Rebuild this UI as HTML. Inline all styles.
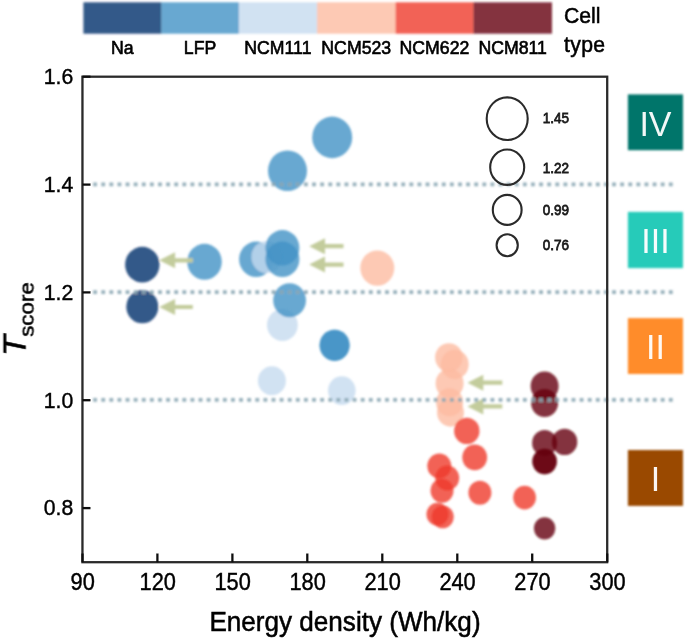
<!DOCTYPE html>
<html lang="en"><head><meta charset="utf-8"><title>T score vs energy density</title>
<style>html,body{margin:0;padding:0;background:#fff}body{width:685px;height:639px;overflow:hidden}svg{display:block}text{font-family:"Liberation Sans",Arial,sans-serif}</style>
</head><body>
<svg width="685" height="639" viewBox="0 0 685 639">
<defs>
<filter id="b" x="-5%" y="-5%" width="110%" height="110%"><feGaussianBlur stdDeviation="0.95"/></filter>
<filter id="b2" x="-5%" y="-5%" width="110%" height="110%"><feGaussianBlur stdDeviation="0.55"/></filter>
<filter id="bt" x="-5%" y="-5%" width="110%" height="110%"><feGaussianBlur stdDeviation="0.75"/></filter>
</defs>
<rect width="685" height="639" fill="#fff"/>
<g filter="url(#b)">
<rect x="83.40" y="2.3" width="78.20" height="31.40" fill="#08306b" fill-opacity="0.8"/>
<rect x="161.30" y="2.3" width="77.80" height="31.40" fill="#4292c6" fill-opacity="0.8"/>
<rect x="238.80" y="2.3" width="78.50" height="31.40" fill="#c6dbef" fill-opacity="0.8"/>
<rect x="317.00" y="2.3" width="78.80" height="31.40" fill="#fcbba1" fill-opacity="0.8"/>
<rect x="395.50" y="2.3" width="78.20" height="31.40" fill="#ef3b2c" fill-opacity="0.8"/>
<rect x="473.40" y="2.3" width="78.60" height="31.40" fill="#67000d" fill-opacity="0.8"/>
<ellipse cx="142.3" cy="264.7" rx="17.2" ry="17.89" fill="#08306b" fill-opacity="0.8"/>
<ellipse cx="142.3" cy="306.7" rx="16" ry="16.64" fill="#08306b" fill-opacity="0.8"/>
<ellipse cx="332.2" cy="137.4" rx="20" ry="20.80" fill="#4292c6" fill-opacity="0.8"/>
<ellipse cx="287.5" cy="170.7" rx="19.5" ry="20.28" fill="#4292c6" fill-opacity="0.8"/>
<ellipse cx="204.5" cy="261.8" rx="17.3" ry="17.99" fill="#4292c6" fill-opacity="0.8"/>
<ellipse cx="256.1" cy="259.3" rx="17" ry="17.68" fill="#4292c6" fill-opacity="0.8"/>
<ellipse cx="267" cy="257" rx="15.5" ry="16.12" fill="#c6dbef" fill-opacity="0.8"/>
<ellipse cx="282.4" cy="247.8" rx="17" ry="17.68" fill="#4292c6" fill-opacity="0.8"/>
<ellipse cx="282.4" cy="259.3" rx="17" ry="17.68" fill="#4292c6" fill-opacity="0.8"/>
<ellipse cx="282.4" cy="325" rx="15.4" ry="16.02" fill="#c6dbef" fill-opacity="0.8"/>
<ellipse cx="289.6" cy="300.3" rx="16.4" ry="17.06" fill="#4292c6" fill-opacity="0.8"/>
<ellipse cx="334.6" cy="345.3" rx="15" ry="15.60" fill="#4292c6" fill-opacity="0.8"/>
<ellipse cx="334.6" cy="345.3" rx="15" ry="15.60" fill="#4292c6" fill-opacity="0.8"/>
<ellipse cx="271.9" cy="380.8" rx="14" ry="14.56" fill="#c6dbef" fill-opacity="0.8"/>
<ellipse cx="341.8" cy="390.6" rx="13.8" ry="14.35" fill="#c6dbef" fill-opacity="0.8"/>
<ellipse cx="377.3" cy="268.1" rx="17" ry="17.68" fill="#fcbba1" fill-opacity="0.8"/>
<ellipse cx="448.9" cy="357.5" rx="13.8" ry="14.35" fill="#fcbba1" fill-opacity="0.8"/>
<ellipse cx="454.7" cy="364.4" rx="14" ry="14.56" fill="#fcbba1" fill-opacity="0.8"/>
<ellipse cx="449.6" cy="383.4" rx="14" ry="14.56" fill="#fcbba1" fill-opacity="0.8"/>
<ellipse cx="449.6" cy="402.3" rx="13.5" ry="14.04" fill="#fcbba1" fill-opacity="0.8"/>
<ellipse cx="450.5" cy="412.6" rx="13.5" ry="14.04" fill="#fcbba1" fill-opacity="0.8"/>
<ellipse cx="466.8" cy="430.9" rx="12.7" ry="13.21" fill="#ef3b2c" fill-opacity="0.8"/>
<ellipse cx="474.7" cy="457.4" rx="12.4" ry="12.90" fill="#ef3b2c" fill-opacity="0.8"/>
<ellipse cx="439.3" cy="466" rx="12" ry="12.48" fill="#ef3b2c" fill-opacity="0.8"/>
<ellipse cx="447.2" cy="478" rx="12" ry="12.48" fill="#ef3b2c" fill-opacity="0.8"/>
<ellipse cx="442" cy="490.8" rx="11.5" ry="11.96" fill="#ef3b2c" fill-opacity="0.8"/>
<ellipse cx="479.9" cy="492.8" rx="11.5" ry="11.96" fill="#ef3b2c" fill-opacity="0.8"/>
<ellipse cx="524.6" cy="497.6" rx="11.4" ry="11.86" fill="#ef3b2c" fill-opacity="0.8"/>
<ellipse cx="437.5" cy="514.2" rx="11" ry="11.44" fill="#ef3b2c" fill-opacity="0.8"/>
<ellipse cx="442.7" cy="516.9" rx="11" ry="11.44" fill="#ef3b2c" fill-opacity="0.8"/>
<ellipse cx="544.6" cy="386.1" rx="14" ry="14.56" fill="#67000d" fill-opacity="0.8"/>
<ellipse cx="544.6" cy="403" rx="13.5" ry="14.04" fill="#67000d" fill-opacity="0.8"/>
<ellipse cx="544.6" cy="442.9" rx="12.5" ry="13.00" fill="#67000d" fill-opacity="0.8"/>
<ellipse cx="564.6" cy="441.9" rx="12.7" ry="13.21" fill="#67000d" fill-opacity="0.8"/>
<ellipse cx="544.6" cy="461.5" rx="12.2" ry="12.69" fill="#67000d" fill-opacity="0.8"/>
<ellipse cx="544.6" cy="461.5" rx="12.2" ry="12.69" fill="#67000d" fill-opacity="0.8"/>
<ellipse cx="544.6" cy="528.3" rx="10.7" ry="11.13" fill="#67000d" fill-opacity="0.8"/>
<path d="M159.3,260.3 L175.1,252.3 L175.1,258.2 L192.8,258.2 L192.8,262.40000000000003 L175.1,262.40000000000003 L175.1,268.3 Z" fill="#c3cc9c"/>
<path d="M159.3,307 L175.1,299.0 L175.1,304.9 L192.8,304.9 L192.8,309.1 L175.1,309.1 L175.1,315.0 Z" fill="#c3cc9c"/>
<path d="M309.2,246.2 L325.0,238.2 L325.0,244.1 L343.5,244.1 L343.5,248.29999999999998 L325.0,248.29999999999998 L325.0,254.2 Z" fill="#c3cc9c"/>
<path d="M309.2,264.6 L325.0,256.6 L325.0,262.5 L343.5,262.5 L343.5,266.70000000000005 L325.0,266.70000000000005 L325.0,272.6 Z" fill="#c3cc9c"/>
<path d="M467.5,382.7 L483.3,374.7 L483.3,380.59999999999997 L502.3,380.59999999999997 L502.3,384.8 L483.3,384.8 L483.3,390.7 Z" fill="#c3cc9c"/>
<path d="M467.5,406.4 L483.3,398.4 L483.3,404.29999999999995 L502.3,404.29999999999995 L502.3,408.5 L483.3,408.5 L483.3,414.4 Z" fill="#c3cc9c"/>
<line x1="93.2" y1="184.3" x2="673" y2="184.3" stroke="#8aa6b2" stroke-width="3.7" stroke-dasharray="3.8 4.308" stroke-opacity="0.9"/>
<line x1="93.2" y1="292.1" x2="673" y2="292.1" stroke="#8aa6b2" stroke-width="3.7" stroke-dasharray="3.8 4.308" stroke-opacity="0.9"/>
<line x1="93.2" y1="399.9" x2="673" y2="399.9" stroke="#8aa6b2" stroke-width="3.7" stroke-dasharray="3.8 4.308" stroke-opacity="0.9"/>
<rect x="627.9" y="94.4" width="55.1" height="55.8" fill="#00746b"/>
<rect x="627.9" y="211.9" width="55.1" height="56.2" fill="#25cbb9"/>
<rect x="627.9" y="318.1" width="55.1" height="55.9" fill="#ff8c2a"/>
<rect x="627.9" y="450" width="55.1" height="55.9" fill="#9a4800"/>
</g>
<g filter="url(#b2)">
<ellipse cx="507.2" cy="118.7" rx="20.5" ry="21.3" fill="none" stroke="#2a2a2a" stroke-width="2.1"/>
<ellipse cx="507.2" cy="167.2" rx="17.0" ry="17.7" fill="none" stroke="#2a2a2a" stroke-width="2.1"/>
<ellipse cx="507.2" cy="209.9" rx="14.4" ry="15.0" fill="none" stroke="#2a2a2a" stroke-width="2.1"/>
<ellipse cx="507.2" cy="245.2" rx="10.6" ry="11.0" fill="none" stroke="#2a2a2a" stroke-width="2.1"/>
<rect x="82.45" y="76.7" width="524.75" height="485.5" fill="none" stroke="#2a2a2a" stroke-width="2.3"/>
<line x1="82.45" y1="76.7" x2="90.5" y2="76.7" stroke="#111" stroke-width="2.3"/>
<line x1="82.45" y1="184.6" x2="90.5" y2="184.6" stroke="#111" stroke-width="2.3"/>
<line x1="82.45" y1="292.4" x2="90.5" y2="292.4" stroke="#111" stroke-width="2.3"/>
<line x1="82.45" y1="400.2" x2="90.5" y2="400.2" stroke="#111" stroke-width="2.3"/>
<line x1="82.45" y1="508.1" x2="90.5" y2="508.1" stroke="#111" stroke-width="2.3"/>
<line x1="82.5" y1="562.2" x2="82.5" y2="553.5" stroke="#111" stroke-width="2.3"/>
<line x1="157.4" y1="562.2" x2="157.4" y2="553.5" stroke="#111" stroke-width="2.3"/>
<line x1="232.4" y1="562.2" x2="232.4" y2="553.5" stroke="#111" stroke-width="2.3"/>
<line x1="307.3" y1="562.2" x2="307.3" y2="553.5" stroke="#111" stroke-width="2.3"/>
<line x1="382.3" y1="562.2" x2="382.3" y2="553.5" stroke="#111" stroke-width="2.3"/>
<line x1="457.3" y1="562.2" x2="457.3" y2="553.5" stroke="#111" stroke-width="2.3"/>
<line x1="532.2" y1="562.2" x2="532.2" y2="553.5" stroke="#111" stroke-width="2.3"/>
<line x1="607.2" y1="562.2" x2="607.2" y2="553.5" stroke="#111" stroke-width="2.3"/>
</g>
<g filter="url(#bt)">
<text x="122.35" y="54.00" font-size="17.7" text-anchor="middle" fill="#000" stroke="#000" stroke-width="0.6" transform="translate(0,54.00) scale(1,1.08) translate(0,-54.00)" >Na</text>
<text x="200.05" y="54.00" font-size="17.7" text-anchor="middle" fill="#000" stroke="#000" stroke-width="0.6" transform="translate(0,54.00) scale(1,1.08) translate(0,-54.00)" >LFP</text>
<text x="277.90" y="54.00" font-size="17.7" text-anchor="middle" fill="#000" stroke="#000" stroke-width="0.6" transform="translate(0,54.00) scale(1,1.08) translate(0,-54.00)" >NCM111</text>
<text x="356.25" y="54.00" font-size="17.7" text-anchor="middle" fill="#000" stroke="#000" stroke-width="0.6" transform="translate(0,54.00) scale(1,1.08) translate(0,-54.00)" >NCM523</text>
<text x="434.45" y="54.00" font-size="17.7" text-anchor="middle" fill="#000" stroke="#000" stroke-width="0.6" transform="translate(0,54.00) scale(1,1.08) translate(0,-54.00)" >NCM622</text>
<text x="512.70" y="54.00" font-size="17.7" text-anchor="middle" fill="#000" stroke="#000" stroke-width="0.6" transform="translate(0,54.00) scale(1,1.08) translate(0,-54.00)" >NCM811</text>
<text x="564.00" y="23.40" font-size="21.2" text-anchor="start" fill="#000" stroke="#000" stroke-width="0.5" transform="translate(0,23.40) scale(1,1.06) translate(0,-23.40)" >Cell</text>
<text x="564.00" y="52.30" font-size="21.2" text-anchor="start" fill="#000" stroke="#000" stroke-width="0.5" transform="translate(0,52.30) scale(1,1.06) translate(0,-52.30)" letter-spacing="0.35">type</text>
<text x="542.70" y="123.20" font-size="13.5" text-anchor="start" fill="#1a1a1a" stroke="#1a1a1a" stroke-width="0.7" transform="translate(0,123.20) scale(1,1.08) translate(0,-123.20)" >1.45</text>
<text x="542.70" y="172.70" font-size="13.5" text-anchor="start" fill="#1a1a1a" stroke="#1a1a1a" stroke-width="0.7" transform="translate(0,172.70) scale(1,1.08) translate(0,-172.70)" >1.22</text>
<text x="542.70" y="214.90" font-size="13.5" text-anchor="start" fill="#1a1a1a" stroke="#1a1a1a" stroke-width="0.7" transform="translate(0,214.90) scale(1,1.08) translate(0,-214.90)" >0.99</text>
<text x="542.70" y="249.90" font-size="13.5" text-anchor="start" fill="#1a1a1a" stroke="#1a1a1a" stroke-width="0.7" transform="translate(0,249.90) scale(1,1.08) translate(0,-249.90)" >0.76</text>
<text x="655.5" y="135.5" font-size="34" text-anchor="middle" fill="#fff" fill-opacity="0.95" transform="translate(0,135.3) scale(1,1.05) translate(0,-135.3)">IV</text>
<text x="655.5" y="253.2" font-size="34" text-anchor="middle" fill="#fff" fill-opacity="0.95" transform="translate(0,253.0) scale(1,1.05) translate(0,-253.0)">III</text>
<text x="655.5" y="359.2" font-size="34" text-anchor="middle" fill="#fff" fill-opacity="0.95" transform="translate(0,359.1) scale(1,1.05) translate(0,-359.1)">II</text>
<text x="655.5" y="491.1" font-size="34" text-anchor="middle" fill="#fff" fill-opacity="0.95" transform="translate(0,490.9) scale(1,1.05) translate(0,-490.9)">I</text>
<text x="73.30" y="84.00" font-size="21.2" text-anchor="end" fill="#000" stroke="#000" stroke-width="0.4" transform="translate(0,84.00) scale(1,1.06) translate(0,-84.00)" >1.6</text>
<text x="73.30" y="191.85" font-size="21.2" text-anchor="end" fill="#000" stroke="#000" stroke-width="0.4" transform="translate(0,191.85) scale(1,1.06) translate(0,-191.85)" >1.4</text>
<text x="73.30" y="299.70" font-size="21.2" text-anchor="end" fill="#000" stroke="#000" stroke-width="0.4" transform="translate(0,299.70) scale(1,1.06) translate(0,-299.70)" >1.2</text>
<text x="73.30" y="407.55" font-size="21.2" text-anchor="end" fill="#000" stroke="#000" stroke-width="0.4" transform="translate(0,407.55) scale(1,1.06) translate(0,-407.55)" >1.0</text>
<text x="73.30" y="515.40" font-size="21.2" text-anchor="end" fill="#000" stroke="#000" stroke-width="0.4" transform="translate(0,515.40) scale(1,1.06) translate(0,-515.40)" >0.8</text>
<text x="82.75" y="590.40" font-size="21.8" text-anchor="middle" fill="#000" stroke="#000" stroke-width="0.4" transform="translate(0,590.40) scale(1,1.09) translate(0,-590.40)" >90</text>
<text x="157.71" y="590.40" font-size="21.8" text-anchor="middle" fill="#000" stroke="#000" stroke-width="0.4" transform="translate(0,590.40) scale(1,1.09) translate(0,-590.40)" >120</text>
<text x="232.68" y="590.40" font-size="21.8" text-anchor="middle" fill="#000" stroke="#000" stroke-width="0.4" transform="translate(0,590.40) scale(1,1.09) translate(0,-590.40)" >150</text>
<text x="307.64" y="590.40" font-size="21.8" text-anchor="middle" fill="#000" stroke="#000" stroke-width="0.4" transform="translate(0,590.40) scale(1,1.09) translate(0,-590.40)" >180</text>
<text x="382.61" y="590.40" font-size="21.8" text-anchor="middle" fill="#000" stroke="#000" stroke-width="0.4" transform="translate(0,590.40) scale(1,1.09) translate(0,-590.40)" >210</text>
<text x="457.57" y="590.40" font-size="21.8" text-anchor="middle" fill="#000" stroke="#000" stroke-width="0.4" transform="translate(0,590.40) scale(1,1.09) translate(0,-590.40)" >240</text>
<text x="532.54" y="590.40" font-size="21.8" text-anchor="middle" fill="#000" stroke="#000" stroke-width="0.4" transform="translate(0,590.40) scale(1,1.09) translate(0,-590.40)" >270</text>
<text x="607.50" y="590.40" font-size="21.8" text-anchor="middle" fill="#000" stroke="#000" stroke-width="0.4" transform="translate(0,590.40) scale(1,1.09) translate(0,-590.40)" >300</text>
<text x="345.00" y="630.60" font-size="26.1" text-anchor="middle" fill="#000" stroke="#000" stroke-width="0.5" transform="translate(0,630.60) scale(1,1.08) translate(0,-630.60)" >Energy density (Wh/kg)</text>
<g transform="translate(25.6,356.0) scale(1,1.065) rotate(-90)"><text x="0" y="0" font-size="32" fill="#000" stroke="#000" stroke-width="0.5"><tspan font-style="italic">T</tspan><tspan font-size="21" dy="8.2" dx="-1.6">score</tspan></text></g>
</g>
</svg></body></html>
